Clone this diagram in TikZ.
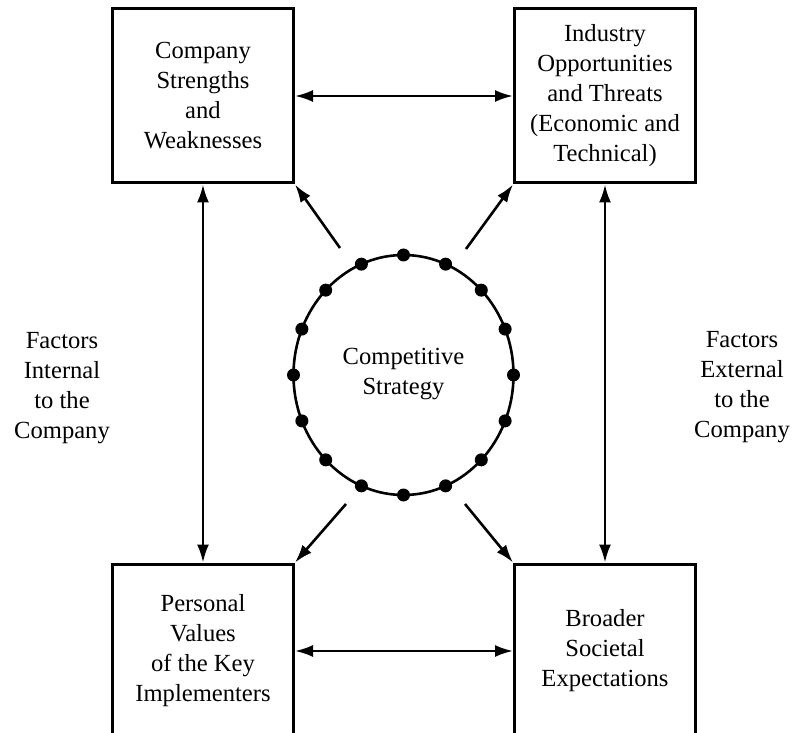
\documentclass[tikz,border=0pt]{standalone}
\usepackage{fontspec}
\setmainfont{Liberation Serif}
\usetikzlibrary{arrows.meta,calc}
\tikzset{
	factorbox/.style={draw, line width=1.5pt, minimum width=90.5pt, minimum height=87pt, align=center, inner sep=0pt},
	sidetext/.style={align=center},
	dblarrow/.style={line width=1.2pt, {Latex[length=9pt,width=6pt]}-{Latex[length=9pt,width=6pt]}},
	onearrow/.style={line width=1.3pt, -{Latex[length=9pt,width=6pt]}}
}
\begin{document}
\begin{tikzpicture}[x=0.5pt, y=-0.5pt, font=\fontsize{12.3}{15}\selectfont]% four factors round the strategy
	\useasboundingbox (0,0) rectangle (794,733);
	% the four boxes
	\node[factorbox] (strengths) at (203,96) {Company\\Strengths\\and\\Weaknesses};
	\node[factorbox] (industry) at (605,96) {Industry\\Opportunities\\and Threats\\(Economic and\\Technical)};
	\node[factorbox] (values) at (203,651) {Personal\\Values\\of the Key\\Implementers};
	\node[factorbox] (society) at (605,651) {Broader\\Societal\\Expectations};
	% the strategy ring with its dots
	\coordinate (ring) at (403.5,375);
	\draw[line width=1.3pt] (ring) ellipse [x radius=110, y radius=120];
	\foreach \a in {0,22.5,...,337.5}
		\fill[shift={(ring)}] (\a:110 and 120) circle [radius=6.5];
	\node[align=center] (strategy) at (403.5,374) {Competitive\\Strategy};
	% side labels
	\node[sidetext] (internal) at (62,388) {Factors\\Internal\\to the\\Company};
	\node[sidetext] (external) at (742,387) {Factors\\External\\to the\\Company};
	% links between the boxes
	\draw[dblarrow] (strengths) -- (industry);
	\draw[dblarrow] (values) -- (society);
	\draw[dblarrow] (strengths) -- (values);
	\draw[dblarrow] (industry) -- (society);
	% arrows out of the ring
	\coordinate (outnw) at (340,248);
	\coordinate (outne) at (466,249);
	\coordinate (outsw) at (346,504);
	\coordinate (outse) at (465,504);
	\draw[onearrow] (outnw) -- (strengths.south east);
	\draw[onearrow] (outne) -- (industry.south west);
	\draw[onearrow] (outsw) -- (values.north east);
	\draw[onearrow] (outse) -- (society.north west);
\end{tikzpicture}
\end{document}
